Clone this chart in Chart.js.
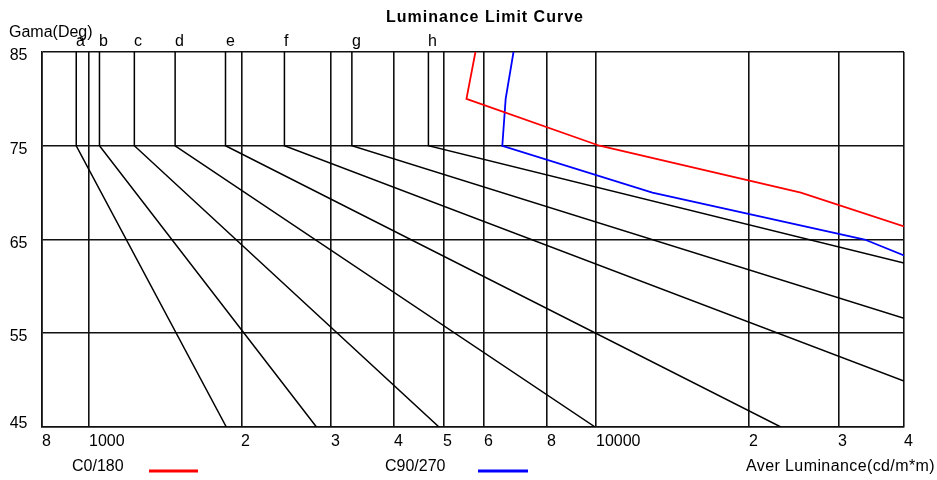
<!DOCTYPE html>
<html>
<head>
<meta charset="utf-8">
<title>Luminance Limit Curve</title>
<script src="https://cdn.jsdelivr.net/npm/chart.js@4.4.1/dist/chart.umd.min.js"></script>
<style>
  body { margin: 0; background: #fff; }
  canvas { display: block; }
</style>
</head>
<body>
<canvas id="chart" width="937" height="480"></canvas>
<script>
// axis (log x, linear y)
const xMin = 809;
const xMax = 40400;
const xTickValues = [809, 1000, 2000, 3000, 4000, 5000, 6000, 8000, 10000, 20000, 30000, 40400];
const xTickLabels = ['8', '1000', '2', '3', '4', '5', '6', '8', '10000', '2', '3', '4'];
const yTicks = [45, 55, 65, 75, 85];

// limit lines a..h : vertical from 85 to 75 deg, then straight down to the end point
const classNames = ['a', 'b', 'c', 'd', 'e', 'f', 'g', 'h'];
const classLum75 = [945, 1050, 1230, 1480, 1860, 2430, 3300, 4670];
const classEndLum = [1867, 2810, 4900, 9950, 23100, 40400, 40400, 40400];
const classEndDeg = [45, 45, 45, 45, 45, 49.9, 56.6, 62.5];

// measured curves
const c0Lum = [5780, 5550, 10150, 25300, 40400];
const c0Deg = [85, 80, 75, 70, 66.4];
const c90Lum = [6870, 6630, 6530, 12900, 33800, 40400];
const c90Deg = [85, 80, 75, 70, 65, 63.3];

const FONT = '"Liberation Sans", Arial, sans-serif';

const datasets = classNames.map((name, i) => ({
    label: name,
    data: [
        { x: classLum75[i], y: 85 },
        { x: classLum75[i], y: 75 },
        { x: classEndLum[i], y: classEndDeg[i] }
    ],
    borderColor: '#000',
    borderWidth: 1.5,
    showLine: true,
    pointRadius: 0,
    tension: 0
}));

datasets.push({
    label: 'C0/180',
    data: c0Lum.map((v, i) => ({ x: v, y: c0Deg[i] })),
    borderColor: '#ff0000',
    borderWidth: 1.8,
    showLine: true,
    pointRadius: 0
});
datasets.push({
    label: 'C90/270',
    data: c90Lum.map((v, i) => ({ x: v, y: c90Deg[i] })),
    borderColor: '#0000ff',
    borderWidth: 1.8,
    showLine: true,
    pointRadius: 0
});

// all the texts, placed from the scales
const textPlugin = {
    id: 'texts',
    afterDraw(chart) {
        const { ctx, chartArea } = chart;
        const x = chart.scales.x;
        const y = chart.scales.y;
        ctx.save();
        ctx.fillStyle = '#000';
        ctx.textBaseline = 'alphabetic';

        // title
        ctx.font = 'bold 16px ' + FONT;
        ctx.textAlign = 'center';
        ctx.letterSpacing = '1px';
        ctx.fillText('Luminance Limit Curve', 485, 22);
        ctx.letterSpacing = '0px';

        ctx.font = '16px ' + FONT;
        ctx.textAlign = 'left';
        ctx.fillText('Gama(Deg)', 9, 37);

        // x tick labels
        xTickValues.forEach((v, i) => {
            ctx.fillText(xTickLabels[i], Math.round(x.getPixelForValue(v)), 446);
        });

        // class letters
        classNames.forEach((name, i) => {
            ctx.fillText(name, Math.round(x.getPixelForValue(classLum75[i])), 45.5);
        });

        // y tick labels
        ctx.textAlign = 'right';
        yTicks.forEach(v => {
            const py = Math.min(y.getPixelForValue(v) + 8, chartArea.bottom + 1);
            ctx.fillText(String(v), 27.5, py);
        });

        // legend + axis name
        ctx.textAlign = 'left';
        ctx.fillText('C0/180', 72, 471);
        ctx.fillText('C90/270', 385, 471);
        ctx.letterSpacing = '0.4px';
        ctx.fillText('Aver Luminance(cd/m*m)', 746, 471);
        ctx.letterSpacing = '0px';

        ctx.lineWidth = 3;
        ctx.strokeStyle = '#ff0000';
        ctx.beginPath(); ctx.moveTo(149, 471); ctx.lineTo(198, 471); ctx.stroke();
        ctx.strokeStyle = '#0000ff';
        ctx.beginPath(); ctx.moveTo(478, 471); ctx.lineTo(528, 471); ctx.stroke();
        ctx.restore();
    }
};

new Chart(document.getElementById('chart'), {
    type: 'scatter',
    data: { datasets: datasets },
    options: {
        responsive: false,
        animation: false,
        layout: { padding: { left: 42, top: 52, right: 33, bottom: 53 } },
        plugins: {
            legend: { display: false },
            title: { display: false },
            tooltip: { enabled: false }
        },
        scales: {
            x: {
                type: 'logarithmic',
                min: xMin,
                max: xMax,
                afterBuildTicks: (scale) => {
                    scale.ticks = xTickValues.map(v => ({ value: v }));
                },
                ticks: { display: false },
                grid: { color: '#111', lineWidth: 1.6, drawTicks: false },
                border: { color: '#111', width: 1.6 }
            },
            y: {
                min: 45,
                max: 85,
                afterBuildTicks: (scale) => {
                    scale.ticks = yTicks.map(v => ({ value: v }));
                },
                ticks: { display: false },
                grid: { color: '#111', lineWidth: 1.6, drawTicks: false },
                border: { color: '#111', width: 1.6 }
            }
        }
    },
    plugins: [textPlugin]
});
</script>
</body>
</html>
